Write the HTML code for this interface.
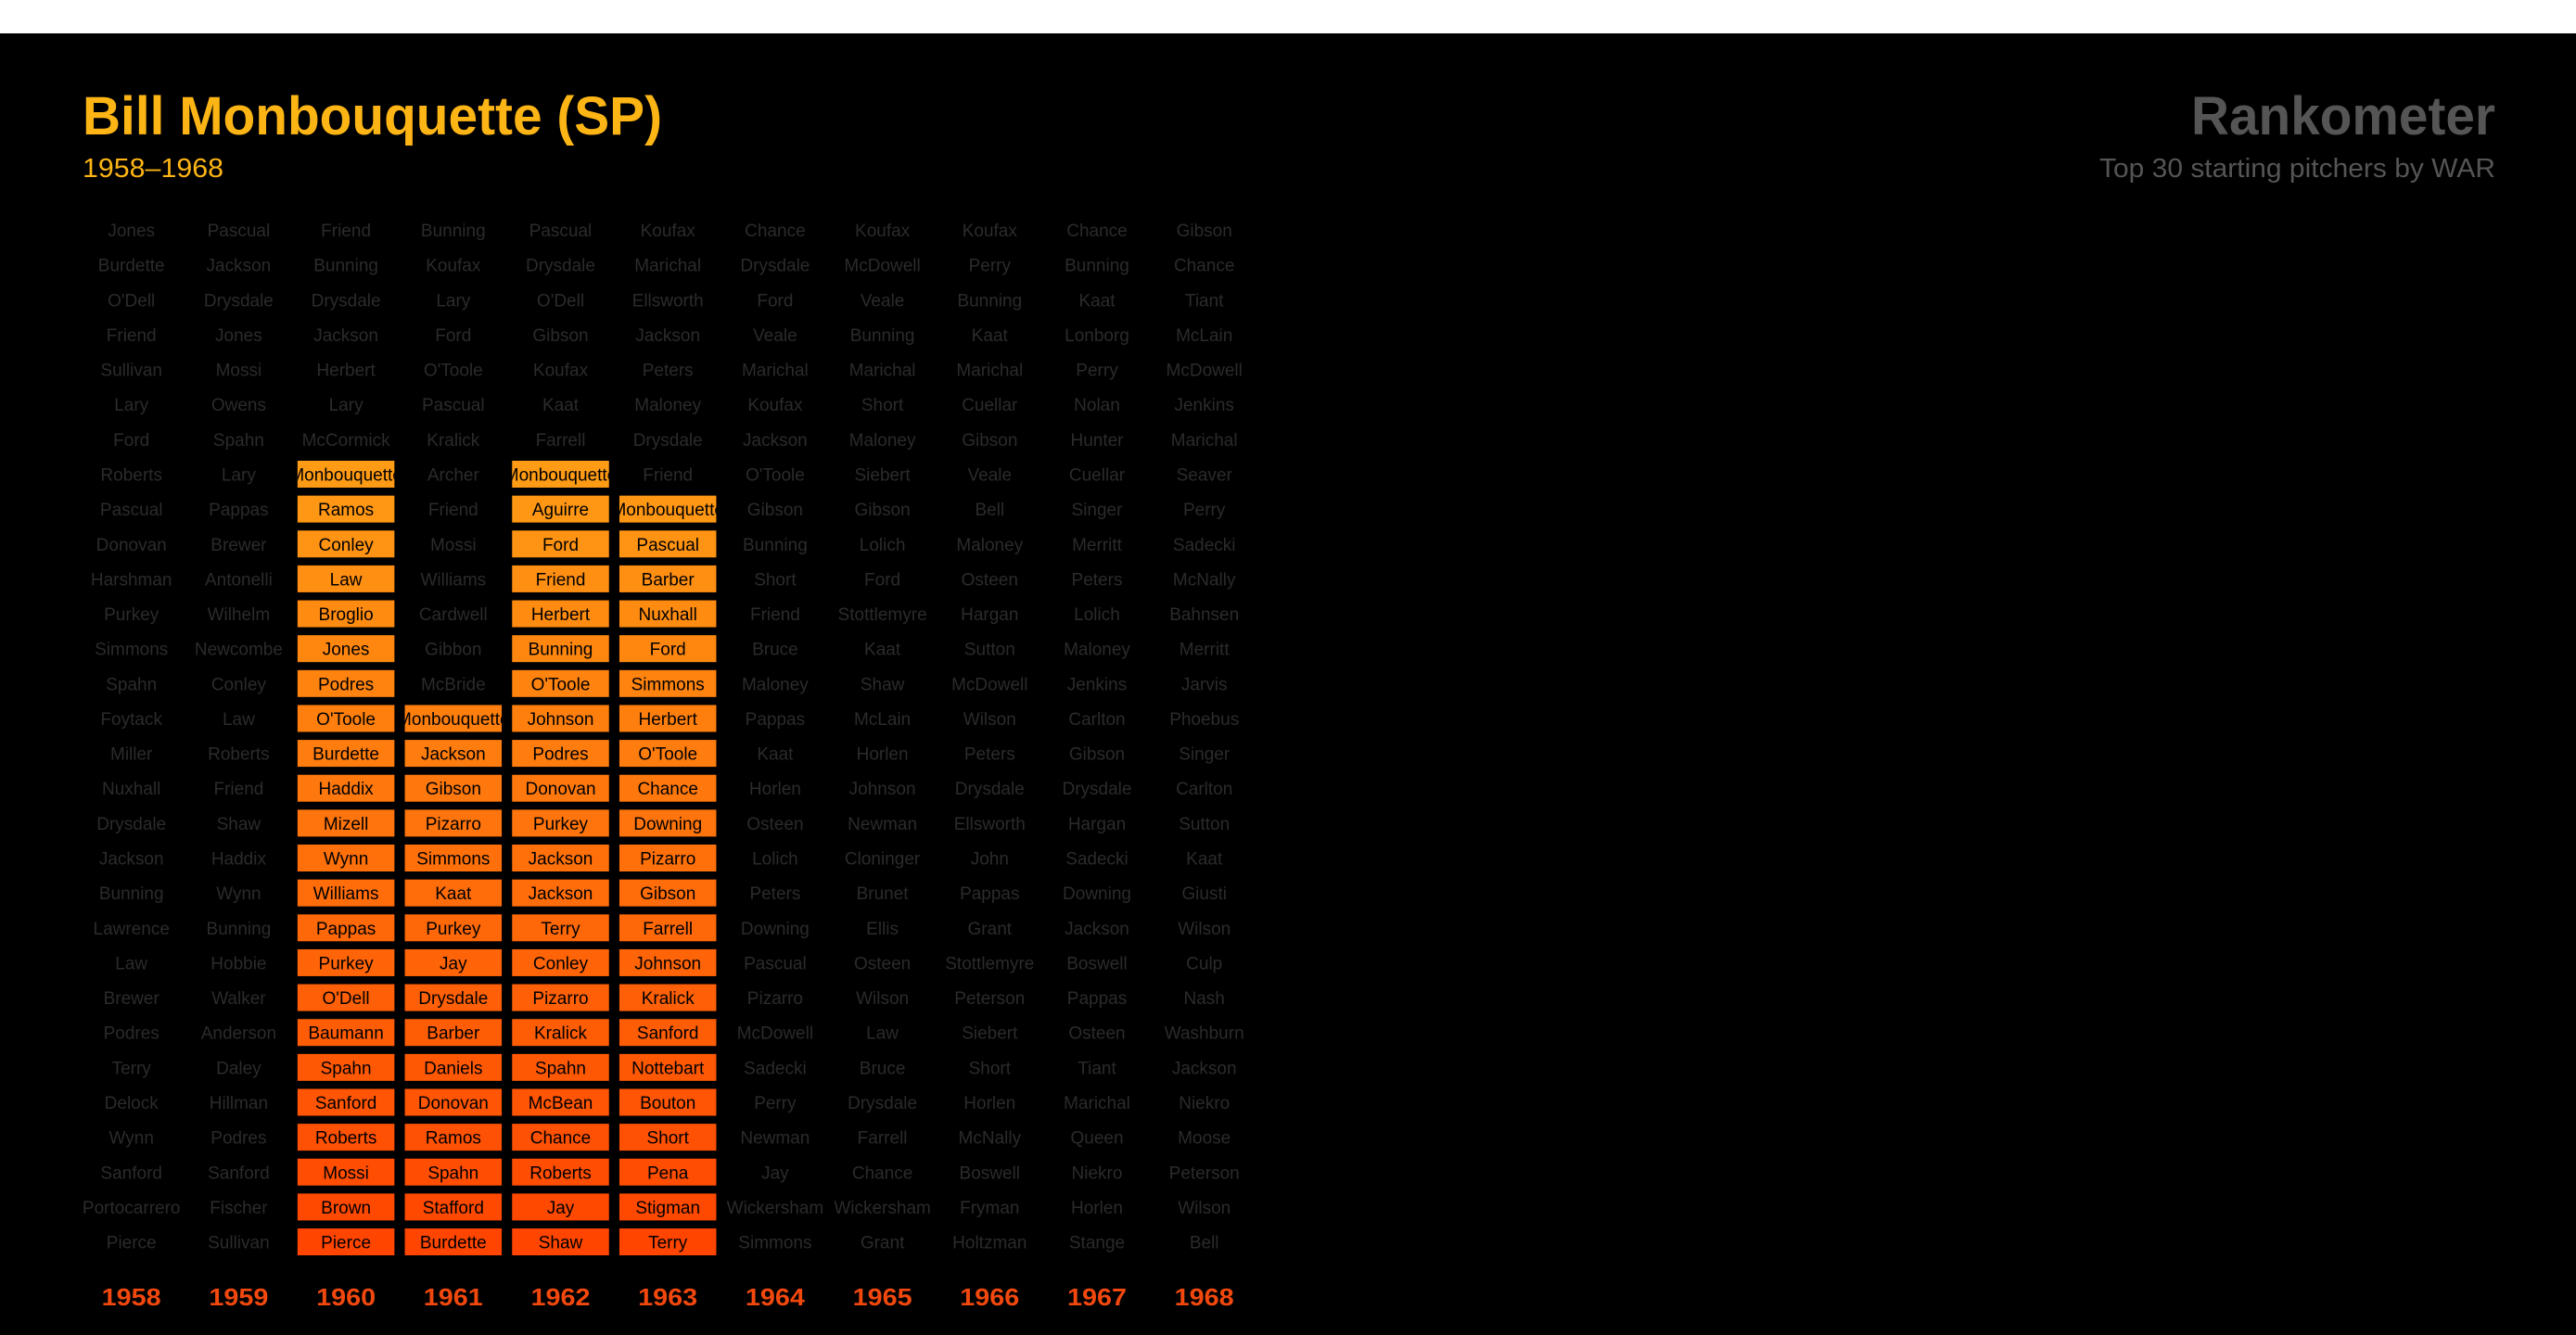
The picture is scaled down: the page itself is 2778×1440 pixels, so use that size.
<!DOCTYPE html>
<html><head><meta charset="utf-8"><style>
html,body{margin:0;padding:0;background:#fff;}
#wrap{position:relative;width:2778px;height:1440px;overflow:hidden;background:#fff;}
svg{position:absolute;left:0;top:0;}
text{font-family:"Liberation Sans",sans-serif;}
</style></head><body>
<div id="wrap">
<svg id="chart" width="2778" height="1440" viewBox="0 0 2778 1440">
<rect x="0" y="36" width="2778" height="1404" fill="#000"/>
<text x="89" y="145" font-size="58" font-weight="bold" fill="#fdb515" textLength="625" lengthAdjust="spacingAndGlyphs">Bill Monbouquette (SP)</text>
<text x="89" y="191" font-size="29" fill="#fdb515" textLength="152" lengthAdjust="spacingAndGlyphs">1958–1968</text>
<text x="2691" y="145" font-size="58" font-weight="bold" fill="#555" text-anchor="end" textLength="328" lengthAdjust="spacingAndGlyphs">Rankometer</text>
<text x="2691" y="191" font-size="29" fill="#555" text-anchor="end" textLength="427" lengthAdjust="spacingAndGlyphs">Top 30 starting pitchers by WAR</text>
<g id="grid"></g>
</svg>
</div>
<script>
const years = [1958,1959,1960,1961,1962,1963,1964,1965,1966,1967,1968];
const playerRank = {1960:8, 1961:15, 1962:8, 1963:9};
const names1958 = ["Jones","Burdette","O'Dell","Friend","Sullivan","Lary","Ford","Roberts","Pascual","Donovan","Harshman","Purkey","Simmons","Spahn","Foytack","Miller","Nuxhall","Drysdale","Jackson","Bunning","Lawrence","Law","Brewer","Podres","Terry","Delock","Wynn","Sanford","Portocarrero","Pierce"];
const names1959 = ["Pascual","Jackson","Drysdale","Jones","Mossi","Owens","Spahn","Lary","Pappas","Brewer","Antonelli","Wilhelm","Newcombe","Conley","Law","Roberts","Friend","Shaw","Haddix","Wynn","Bunning","Hobbie","Walker","Anderson","Daley","Hillman","Podres","Sanford","Fischer","Sullivan"];
const names1960 = ["Friend","Bunning","Drysdale","Jackson","Herbert","Lary","McCormick","Monbouquette","Ramos","Conley","Law","Broglio","Jones","Podres","O'Toole","Burdette","Haddix","Mizell","Wynn","Williams","Pappas","Purkey","O'Dell","Baumann","Spahn","Sanford","Roberts","Mossi","Brown","Pierce"];
const names1961 = ["Bunning","Koufax","Lary","Ford","O'Toole","Pascual","Kralick","Archer","Friend","Mossi","Williams","Cardwell","Gibbon","McBride","Monbouquette","Jackson","Gibson","Pizarro","Simmons","Kaat","Purkey","Jay","Drysdale","Barber","Daniels","Donovan","Ramos","Spahn","Stafford","Burdette"];
const names1962 = ["Pascual","Drysdale","O'Dell","Gibson","Koufax","Kaat","Farrell","Monbouquette","Aguirre","Ford","Friend","Herbert","Bunning","O'Toole","Johnson","Podres","Donovan","Purkey","Jackson","Jackson","Terry","Conley","Pizarro","Kralick","Spahn","McBean","Chance","Roberts","Jay","Shaw"];
const names1963 = ["Koufax","Marichal","Ellsworth","Jackson","Peters","Maloney","Drysdale","Friend","Monbouquette","Pascual","Barber","Nuxhall","Ford","Simmons","Herbert","O'Toole","Chance","Downing","Pizarro","Gibson","Farrell","Johnson","Kralick","Sanford","Nottebart","Bouton","Short","Pena","Stigman","Terry"];
const names1964 = ["Chance","Drysdale","Ford","Veale","Marichal","Koufax","Jackson","O'Toole","Gibson","Bunning","Short","Friend","Bruce","Maloney","Pappas","Kaat","Horlen","Osteen","Lolich","Peters","Downing","Pascual","Pizarro","McDowell","Sadecki","Perry","Newman","Jay","Wickersham","Simmons"];
const names1965 = ["Koufax","McDowell","Veale","Bunning","Marichal","Short","Maloney","Siebert","Gibson","Lolich","Ford","Stottlemyre","Kaat","Shaw","McLain","Horlen","Johnson","Newman","Cloninger","Brunet","Ellis","Osteen","Wilson","Law","Bruce","Drysdale","Farrell","Chance","Wickersham","Grant"];
const names1966 = ["Koufax","Perry","Bunning","Kaat","Marichal","Cuellar","Gibson","Veale","Bell","Maloney","Osteen","Hargan","Sutton","McDowell","Wilson","Peters","Drysdale","Ellsworth","John","Pappas","Grant","Stottlemyre","Peterson","Siebert","Short","Horlen","McNally","Boswell","Fryman","Holtzman"];
const names1967 = ["Chance","Bunning","Kaat","Lonborg","Perry","Nolan","Hunter","Cuellar","Singer","Merritt","Peters","Lolich","Maloney","Jenkins","Carlton","Gibson","Drysdale","Hargan","Sadecki","Downing","Jackson","Boswell","Pappas","Osteen","Tiant","Marichal","Queen","Niekro","Horlen","Stange"];
const names1968 = ["Gibson","Chance","Tiant","McLain","McDowell","Jenkins","Marichal","Seaver","Perry","Sadecki","McNally","Bahnsen","Merritt","Jarvis","Phoebus","Singer","Carlton","Sutton","Kaat","Giusti","Wilson","Culp","Nash","Washburn","Jackson","Niekro","Moose","Peterson","Wilson","Bell"];
const columns = [names1958,names1959,names1960,names1961,names1962,names1963,names1964,names1965,names1966,names1967,names1968];

const NS = "http://www.w3.org/2000/svg";
const x0 = 141.7, colStep = 115.7, y0 = 248, rowStep = 37.64;
function xScale(i){ return x0 + i*colStep; }
function yScale(rank){ return y0 + (rank-1)*rowStep; }
function colorFor(rank){
  const t = (rank-1)/29;
  const g = Math.round(182 + (69-182)*t);
  const b = Math.round(28 + (0-28)*t);
  return "rgb(255,"+g+","+b+")";
}
const grid = document.getElementById('grid');
const defs = document.createElementNS(NS,'defs');
grid.appendChild(defs);
years.forEach((yr, ci) => {
  const cx = xScale(ci);
  const g = document.createElementNS(NS,'g');
  
  
  grid.appendChild(g);
  const pr = playerRank[yr];
  columns[ci].forEach((nm, ri) => {
    const rank = ri + 1;
    const cy = yScale(rank);
    const hl = pr !== undefined && rank >= pr;
    if (hl) {
      const cp = document.createElementNS(NS,'clipPath');
      cp.setAttribute('id','clip-'+yr+'-'+rank);
      const cr = document.createElementNS(NS,'rect');
      cr.setAttribute('x', cx-52.25); cr.setAttribute('y', cy-14.5);
      cr.setAttribute('width', 104.5); cr.setAttribute('height', 29);
      cp.appendChild(cr); defs.appendChild(cp);
      const r = document.createElementNS(NS,'rect');
      r.setAttribute('x', cx-52.25); r.setAttribute('y', cy-14.5);
      r.setAttribute('width', 104.5); r.setAttribute('height', 29);
      r.setAttribute('fill', colorFor(rank));
      
      
      g.appendChild(r);
    }
    const t = document.createElementNS(NS,'text');
    t.setAttribute('x', cx); t.setAttribute('y', cy+7);
    t.setAttribute('text-anchor','middle');
    t.setAttribute('font-size','19');
    t.setAttribute('fill', hl ? '#000' : '#2b2b2b');
    if (hl) t.setAttribute('clip-path','url(#clip-'+yr+'-'+rank+')');
    t.textContent = nm;
    
    
    g.appendChild(t);
  });
  const yl = document.createElementNS(NS,'text');
  yl.setAttribute('x', cx); yl.setAttribute('y', 1408);
  yl.setAttribute('text-anchor','middle');
  yl.setAttribute('font-size','26');
  yl.setAttribute('font-weight','bold');
  yl.setAttribute('fill','#f2480e');
  yl.setAttribute('textLength','64');
  yl.setAttribute('lengthAdjust','spacingAndGlyphs');
  yl.textContent = yr;
  
  
  g.appendChild(yl);
});
</script>
</body></html>
